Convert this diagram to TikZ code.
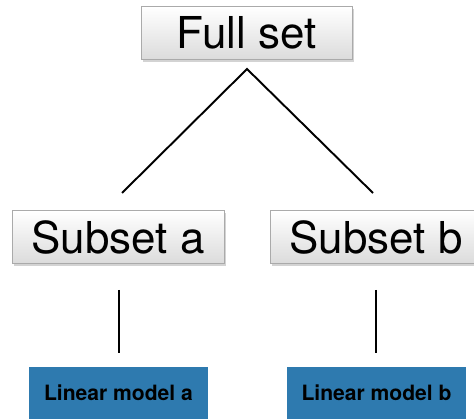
\documentclass[tikz,border=0pt]{standalone}
\usepackage{fontspec}
\setmainfont{TeX Gyre Heros}
\usepackage{tikz}
\usetikzlibrary{positioning, shadows}
\definecolor{SetGray}{RGB}{170,170,170}
\definecolor{ModelBlue}{RGB}{46,122,175}

\begin{document}
\begin{tikzpicture}[
          setbox/.style={rectangle, draw=SetGray, top color=white,
                         bottom color=gray!28, minimum width=4.22cm,
                         minimum height=1.06cm, inner sep=0pt,
                         font=\fontsize{25}{30}\selectfont,
                         drop shadow={opacity=0.35, shadow xshift=0.03cm,
                                      shadow yshift=-0.05cm}},
          modelbox/.style={rectangle, fill=ModelBlue, minimum width=3.58cm,
                           minimum height=1.04cm, inner sep=0pt,
                           font=\fontsize{12}{14}\selectfont\bfseries},
          link/.style={line width=1.1pt}
        ]
        \useasboundingbox (0,0) rectangle (9.48,8.38);

        % Top level
        \node[setbox] (full) at (4.93, 7.72) {Full set};

        % Subsets
        \node[setbox, minimum width=4.24cm] (suba) at (2.36, 3.64) {Subset a};
        \node[setbox, minimum width=4.24cm] (subb) at (7.52, 3.64) {Subset b};

        % Models fitted on each subset
        \node[modelbox] (lma) at (2.37, 0.52) {Linear model a};
        \node[modelbox] (lmb) at (7.53, 0.52) {Linear model b};

        % Split lines
        \coordinate (split) at (4.94, 7.00);
        \coordinate (splita) at (2.44, 4.52);
        \coordinate (splitb) at (7.46, 4.52);
        \draw[link] (splita) -- (split) -- (splitb);

        % Subset -> model
        \draw[link, shorten <=0.52cm, shorten >=0.28cm]
              (suba.south -| 2.38,0) -- (lma.north -| 2.38,0);
        \draw[link, shorten <=0.52cm, shorten >=0.28cm]
              (subb.south -| 7.52,0) -- (lmb.north -| 7.52,0);
      \end{tikzpicture}
\end{document}
